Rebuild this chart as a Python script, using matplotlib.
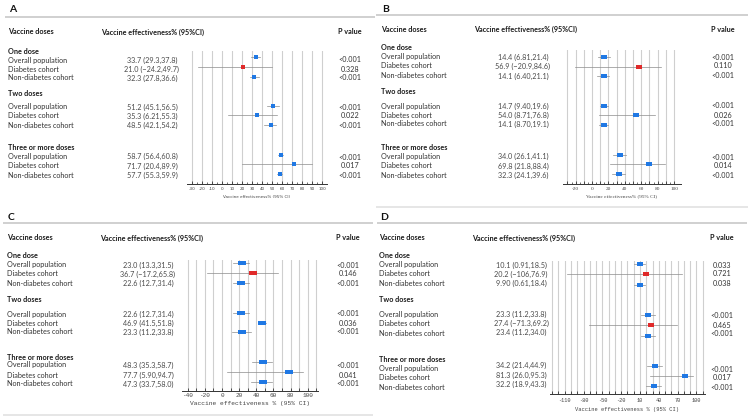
import matplotlib
matplotlib.use("Agg")
import matplotlib.pyplot as plt
from matplotlib.path import Path
from matplotlib.ticker import FixedLocator

plt.rcParams['axes.unicode_minus'] = False

W, H = 751, 420

# ---------------- data ----------------
groups = ["One dose", "Two doses", "Three or more doses"]
cohorts = ["Overall population", "Diabetes cohort", "Non-diabetes cohort"]

ve_A = [33.7, 21.0, 32.3, 51.2, 35.3, 48.5, 58.7, 71.7, 57.7]
lo_A = [29.3, -24.2, 27.8, 45.1, 6.21, 42.1, 56.4, 20.4, 55.3]
hi_A = [37.8, 49.7, 36.6, 56.5, 55.3, 54.2, 60.8, 89.9, 59.9]
ci_A = ["33.7 (29.3,37.8)", "21.0 (\u221224.2,49.7)", "32.3 (27.8,36.6)",
        "51.2 (45.1,56.5)", "35.3 (6.21,55.3)", "48.5 (42.1,54.2)",
        "58.7 (56.4,60.8)", "71.7 (20.4,89.9)", "57.7 (55.3,59.9)"]
p_A = ["<0.001", "0.328", "<0.001", "<0.001", "0.022", "<0.001", "<0.001", "0.017", "<0.001"]

ve_B = [14.4, 56.9, 14.1, 14.7, 54.0, 14.1, 34.0, 69.8, 32.3]
lo_B = [6.81, -20.9, 6.40, 9.40, 8.71, 8.70, 26.1, 21.8, 24.1]
hi_B = [21.4, 84.6, 21.1, 19.6, 76.8, 19.1, 41.1, 88.4, 39.6]
ci_B = ["14.4 (6.81,21.4)", "56.9 (\u221220.9,84.6)", "14.1 (6.40,21.1)",
        "14.7 (9.40,19.6)", "54.0 (8.71,76.8)", "14.1 (8.70,19.1)",
        "34.0 (26.1,41.1)", "69.8 (21.8,88.4)", "32.3 (24.1,39.6)"]
p_B = ["<0.001", "0.110", "<0.001", "<0.001", "0.026", "<0.001", "<0.001", "0.014", "<0.001"]

ve_C = [23.0, 36.7, 22.6, 22.6, 46.9, 23.3, 48.3, 77.7, 47.3]
lo_C = [13.3, -17.2, 12.7, 12.7, 41.5, 11.2, 35.3, 5.90, 33.7]
hi_C = [31.5, 65.8, 31.4, 31.4, 51.8, 33.8, 58.7, 94.7, 58.0]
ci_C = ["23.0 (13.3,31.5)", "36.7 (\u221217.2,65.8)", "22.6 (12.7,31.4)",
        "22.6 (12.7,31.4)", "46.9 (41.5,51.8)", "23.3 (11.2,33.8)",
        "48.3 (35.3,58.7)", "77.7 (5.90,94.7)", "47.3 (33.7,58.0)"]
p_C = ["<0.001", "0.146", "<0.001", "<0.001", "0.036", "<0.001", "<0.001", "0.041", "<0.001"]

ve_D = [10.1, 20.2, 9.90, 23.3, 27.4, 23.4, 34.2, 81.3, 32.2]
lo_D = [0.91, -106, 0.61, 11.2, -71.3, 11.2, 21.4, 26.0, 18.9]
hi_D = [18.5, 76.9, 18.4, 33.8, 69.2, 34.0, 44.9, 95.3, 43.3]
ci_D = ["10.1 (0.91,18.5)", "20.2 (\u2212106,76.9)", "9.90 (0.61,18.4)",
        "23.3 (11.2,33.8)", "27.4 (\u221271.3,69.2)", "23.4 (11.2,34.0)",
        "34.2 (21.4,44.9)", "81.3 (26.0,95.3)", "32.2 (18.9,43.3)"]
p_D = ["0.033", "0.721", "0.038", "<0.001", "0.465", "<0.001", "<0.001", "0.017", "<0.001"]

ticks_A = list(range(-30, 101, 10))
ticklabels_A = [str(t) for t in ticks_A]
ticks_B = list(range(-30, 101, 10))
ticklabels_B = [str(t) if t % 20 == 0 else "" for t in ticks_B]
ticks_C = list(range(-40, 111, 10))
ticklabels_C = [str(t) if (t % 20 == 0 and t <= 100) else "" for t in ticks_C]
ticks_D = list(range(-130, 111, 10))
ticklabels_D = [str(t) if (t + 110) % 30 == 0 and t >= -110 else "" for t in ticks_D]

xlabel_AB = "Vaccine effectiveness% (95% CI)"
xlabel_CD = "Vaccine effectiveness % (95% CI)"

# ---------------- style ----------------
FONT = ["Lato", "DejaVu Sans"]
BLUE = "#1f78e4"
RED = "#e02a2a"
GRID = "#cfcfcf"
CI_COL = "#8c8c8c"

fig = plt.figure(figsize=(W / 100, H / 100), dpi=100)
bg = fig.add_axes([0, 0, 1, 1])
bg.set_xlim(0, W)
bg.set_ylim(H, 0)
bg.axis("off")


def rect_marker(aspect):
    return Path([(-aspect, -1), (aspect, -1), (aspect, 1), (-aspect, 1), (-aspect, -1)],
                [Path.MOVETO, Path.LINETO, Path.LINETO, Path.LINETO, Path.CLOSEPOLY])


def draw_panel(letter, ox, header_y, group_y, row_y, val_y, p_y, mark_y,
               val_cx, p_cx, ve_hdr_x, lab_x,
               ve, lo, hi, ci, pv,
               ax_x0, ax_x1, xlim, top_y, axis_y,
               ticks, ticklabels, minor, tick_font, tick_size, tick_pad,
               xlabel, xlabel_y, xlabel_font, xlabel_size,
               line_y, line_x0, line_x1, letter_y, mk_aspect, mk_size,
               bottom_line=None):
    # panel letter and separator
    bg.text(ox + lab_x + 1, letter_y, letter, fontsize=7.5, fontweight="bold",
            family=FONT, va="center", ha="left", color="#111111")
    bg.plot([line_x0, line_x1], [line_y, line_y], color="#c8c8c8", lw=1.2,
            solid_capstyle="butt")
    if bottom_line is not None:
        bg.plot([line_x0, line_x1], [bottom_line, bottom_line], color="#e2e2e2",
                lw=1.2, solid_capstyle="butt")
    # headers
    hk = dict(fontsize=5.2, fontweight="bold", family=FONT, va="center", color="#1a1a1a")
    bg.text(ox + lab_x, header_y, "Vaccine doses", ha="left", **hk)
    bg.text(ve_hdr_x, header_y, "Vaccine effectiveness% (95%CI)", ha="left", **hk)
    bg.text(p_cx, header_y, "P value", ha="center", **hk)
    # rows
    for g in range(3):
        bg.text(ox + lab_x, group_y[g], groups[g], ha="left", **hk)
        for c in range(3):
            i = g * 3 + c
            bg.text(ox + lab_x, row_y[g][c], cohorts[c], fontsize=5.2, family=FONT,
                    va="center", ha="left", color="#333333")
            bg.text(val_cx, val_y[g][c], ci[i], fontsize=5.2, family=FONT,
                    va="center", ha="center", color="#4a4a4a")
            bg.text(p_cx, p_y[g][c], pv[i], fontsize=5.2, family=FONT,
                    va="center", ha="center", color="#333333")
    # forest axes
    ax = fig.add_axes([ax_x0 / W, 1 - axis_y / H, (ax_x1 - ax_x0) / W, (axis_y - top_y) / H])
    ax.set_xlim(*xlim)
    ax.set_ylim(axis_y, top_y)
    ax.patch.set_alpha(0)
    for s in ["top", "right", "left"]:
        ax.spines[s].set_visible(False)
    ax.spines["bottom"].set_color("#333333")
    ax.spines["bottom"].set_linewidth(0.7)
    ax.set_yticks([])
    ax.set_xticks(ticks)
    ax.set_xticklabels(ticklabels, fontsize=tick_size, family=tick_font, color="#444444")
    if minor:
        ax.xaxis.set_minor_locator(FixedLocator([t + 5 for t in ticks[:-1]]))
    ax.tick_params(axis="x", which="major", direction="in", length=2.2, width=0.6,
                   color="#333333", pad=tick_pad)
    ax.tick_params(axis="x", which="minor", direction="in", length=1.1, width=0.5,
                   color="#333333")
    for t in ticks:
        ax.axvline(t, color=GRID, lw=0.8, zorder=0)
    for g in range(3):
        for c in range(3):
            i = g * 3 + c
            y = mark_y[g][c]
            ax.plot([lo[i], hi[i]], [y, y], color=CI_COL, lw=0.5, zorder=2)
            col = RED if pv[i] != "<0.001" and float(pv[i]) >= 0.05 else BLUE
            ax.plot([ve[i]], [y], marker=rect_marker(mk_aspect), markersize=mk_size,
                    color=col, markeredgewidth=0, linestyle="none", zorder=3)
    bg.text((ax_x0 + ax_x1) / 2, xlabel_y, xlabel, fontsize=xlabel_size,
            family=xlabel_font, ha="center", va="center", color="#444444")
    return ax


# Panel A
draw_panel("A", 0, 32, [51, 94, 147],
           [[60, 69, 78], [107, 116, 125], [156, 166, 175]],
           [[60, 69, 78], [107, 116, 125], [156, 166, 175]],
           [[60, 69, 78], [107, 116, 125], [157, 166, 175]],
           [[57, 67, 77], [106, 115, 125], [155, 164, 174]],
           152, 350, 101, 8,
           ve_A, lo_A, hi_A, ci_A, p_A,
           187, 327, (-35, 105), 51, 184,
           ticks_A, ticklabels_A, True, ["DejaVu Sans"], 3.0, 2.3,
           xlabel_AB, 196.5, ["DejaVu Sans"], 3.0,
           17, 5, 375, 10, 1.4, 3.3)

# Panel B
draw_panel("B", 375, 29, [48, 92, 147],
           [[57, 66, 76], [106, 115, 124], [156, 166, 175]],
           [[57, 66, 76], [106, 115, 124], [156, 166, 175]],
           [[57, 66, 76], [106, 115, 124], [157, 166, 175]],
           [[57, 67, 76], [106, 115, 125], [155, 164, 174]],
           523, 723, 474, 6,
           ve_B, lo_B, hi_B, ci_B, p_B,
           562.5, 680.6, (-36, 108), 50, 184,
           ticks_B, ticklabels_B, True, ["Liberation Serif"], 3.8, 2.0,
           xlabel_AB, 196, ["Liberation Serif"], 3.8,
           15, 376, 748, 9, 1.6, 3.8,
           bottom_line=207)

# Panel C
draw_panel("C", 0, 238, [256, 300, 357],
           [[265, 274, 283], [314, 323, 332], [365, 375, 384]],
           [[265, 274, 283], [314, 323, 332], [365, 375, 384]],
           [[265, 274, 283], [314, 323, 332], [365, 375, 384]],
           [[263, 273, 283], [313, 323, 332], [362, 372, 382]],
           148, 348, 100, 7,
           ve_C, lo_C, hi_C, ci_C, p_C,
           181.7, 318, (-47, 112), 260, 391,
           ticks_C, ticklabels_C, False, ["Liberation Mono"], 4.3, 1.2,
           xlabel_CD, 403, ["Liberation Mono"], 4.5,
           223, 3, 373, 217, 2.1, 5.2,
           bottom_line=415)

# Panel D
draw_panel("D", 375, 238, [256, 300, 360],
           [[265, 274, 283], [315, 324, 334], [369, 378, 387]],
           [[265, 274, 283], [314, 323, 332], [365, 375, 384]],
           [[265, 274, 283], [316, 325, 334], [369, 378, 387]],
           [[264, 274, 285], [315, 325, 336], [366, 376, 386]],
           521, 722, 472, 4,
           ve_D, lo_D, hi_D, ci_D, p_D,
           549.7, 704.6, (-134, 113), 261, 394,
           ticks_D, ticklabels_D, False, ["Liberation Mono"], 3.8, 3.0,
           xlabel_CD, 409, ["Liberation Mono"], 3.9,
           223, 377, 747, 217, 1.6, 4.0)

fig.savefig("out.png", dpi=100)
